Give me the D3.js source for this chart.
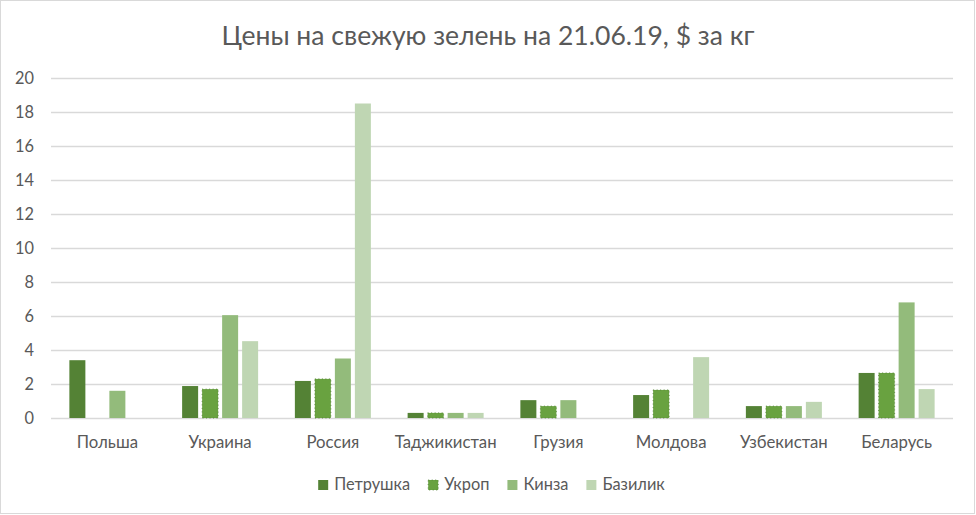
<!DOCTYPE html>
<html><head><meta charset="utf-8">
<script src="https://cdn.jsdelivr.net/npm/d3@7"></script>
<style>
html,body{margin:0;padding:0;background:#fff;}
svg{display:block;font-family:Lato,"Open Sans",sans-serif;}
</style></head>
<body>
<svg id="chart" width="976" height="515"></svg>
<script>
const title = "Цены на свежую зелень на 21.06.19, $ за кг";
const categories = ["Польша","Украина","Россия","Таджикистан","Грузия","Молдова","Узбекистан","Беларусь"];
const seriesNames = ["Петрушка","Укроп","Кинза","Базилик"];
const petrushka = [3.4, 1.88, 2.18, 0.3, 1.05, 1.35, 0.7, 2.65];
const ukrop     = [0,   1.7,  2.3,  0.3, 0.7,  1.65, 0.7, 2.65];
const kinza     = [1.6, 6.05, 3.5,  0.3, 1.05, 0,    0.7, 6.8];
const bazilik   = [0,   4.52, 18.5, 0.3, 0,    3.58, 0.95, 1.7];
const yTicks = [0,2,4,6,8,10,12,14,16,18,20];
const colors = ["#548235","#69a240","#93bb7b","#bfd6b3"];

const seriesValues = [petrushka, ukrop, kinza, bazilik];
const svg = d3.select("#chart");
const W = 976, H = 515;
const textColor = "#595959";

// outer border
svg.append("rect").attr("x",0.5).attr("y",0.5).attr("width",W-2).attr("height",H-2)
  .attr("fill","#fff").attr("stroke","#d9d9d9").attr("stroke-width",1);

// helper: font size so that a text reaches a target width
function fitSize(txt, target){
  const t = svg.append("text").attr("font-size",100).text(txt);
  const w = t.node().getComputedTextLength();
  t.remove();
  return 100*target/w;
}

const plot = {left:51, right:953, top:78, bottom:418};
const x0 = d3.scaleBand().domain(categories).range([plot.left, plot.right]).paddingInner(0).paddingOuter(0);
const y = d3.scaleLinear().domain([0,20]).range([plot.bottom, plot.top]);
const groupW = 76;
const x1 = d3.scaleBand().domain(d3.range(4)).range([0, groupW]).paddingInner(0.2).paddingOuter(0);

// title
svg.append("text").attr("x",488).attr("y",45).attr("text-anchor","middle")
  .attr("font-size",fitSize(title,533)).attr("fill",textColor).text(title);

// gridlines
svg.append("g").selectAll("line").data(yTicks).join("line")
  .attr("x1",plot.left).attr("x2",plot.right)
  .attr("y1",d=>Math.round(y(d))+0.5).attr("y2",d=>Math.round(y(d))+0.5)
  .attr("stroke","#d9d9d9").attr("stroke-width",1.3);

// y axis labels
const yAxis = d3.axisLeft(y).tickValues(yTicks).tickSize(0).tickPadding(0);
const yg = svg.append("g").attr("transform",`translate(${34},0)`).call(yAxis);
yg.select(".domain").remove();
yg.selectAll("text").attr("fill",textColor).attr("font-size",fitSize("20",19))
  .attr("font-family","Lato, sans-serif");

// bars
const groups = svg.append("g").selectAll("g").data(categories).join("g")
  .attr("transform",c=>`translate(${x0(c)+x0.bandwidth()/2-groupW/2},0)`);
groups.selectAll("rect").data((c,i)=>seriesValues.map((s,k)=>({k, v:s[i]})).filter(d=>d.v>0))
  .join("rect")
  .attr("x",d=>x1(d.k)).attr("width",x1.bandwidth())
  .attr("y",d=>y(d.v)).attr("height",d=>y(0)-y(d.v))
  .attr("fill",d=>colors[d.k])
  .attr("stroke",d=>d.k===1?"#4f7d31":"none")
  .attr("stroke-width",0.8).attr("stroke-dasharray","1,2.5");

// x axis labels
const xAxis = d3.axisBottom(x0).tickSize(0).tickPadding(0);
const xg = svg.append("g").attr("transform",`translate(0,${436})`).call(xAxis);
xg.select(".domain").remove();
xg.selectAll("text").attr("fill",textColor).attr("font-size",fitSize("Таджикистан",102))
  .attr("font-family","Lato, sans-serif").attr("dy","0.71em");

// legend
const legFont = fitSize("Петрушка",76);
const leg = svg.append("g");
let cx = 0;
const items = [];
seriesNames.forEach((n,k)=>{
  const g = leg.append("g").attr("transform",`translate(${cx},0)`);
  g.append("rect").attr("x",0).attr("y",-10).attr("width",10).attr("height",10)
    .attr("fill",colors[k]).attr("stroke",k===1?"#4f7d31":"none")
    .attr("stroke-width",0.8).attr("stroke-dasharray","1,2.5");
  const t = g.append("text").attr("x",16).attr("y",0).attr("font-size",legFont)
    .attr("fill",textColor).text(n);
  const w = t.node().getComputedTextLength();
  cx += 16 + w + 18;
});
const legW = cx - 18;
leg.attr("transform",`translate(${491.5-legW/2},${490})`);
</script>
</body></html>
